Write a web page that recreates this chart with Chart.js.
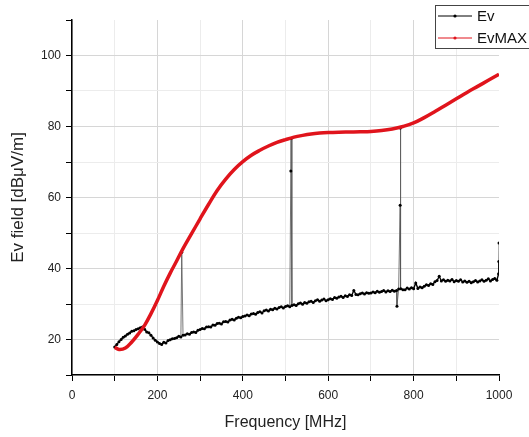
<!DOCTYPE html>
<html>
<head>
<meta charset="utf-8">
<script src="https://cdn.jsdelivr.net/npm/chart.js@4.4.1/dist/chart.umd.min.js"></script>
<style>
    html, body { margin: 0; padding: 0; background: #fff; }
    #wrap { width: 529px; height: 437px; }
</style>
</head>
<body>
<div id="wrap"><canvas id="field-chart"></canvas></div>
<script>
// measured field, one sample every 5 MHz from 100 MHz
const evStart = 100;
const evStep = 5;
const evLevel = [
    17.9, 18.6, 19.4, 20.0, 20.6, 21.0, 21.5, 21.8, 22.3, 22.5,
    22.8, 23.0, 23.3, 23.5, 22.9, 22.1, 21.9, 21.2, 20.4, 19.8,
    19.3, 18.9, 18.6, 19.2, 19.0, 19.7, 19.9, 20.2, 20.3, 20.5,
    20.9, 20.7, 21.2, 21.3, 21.6, 21.5, 22.0, 22.1, 22.0, 22.6,
    22.8, 23.1, 23.0, 23.5, 23.6, 23.5, 24.1, 24.0, 24.5, 24.6,
    24.4, 25.0, 25.1, 24.9, 25.5, 25.7, 25.5, 26.0, 26.3, 26.1,
    26.5, 26.6, 26.9, 26.7, 27.2, 27.3, 27.1, 27.6, 27.8, 27.5,
    28.1, 28.3, 28.0, 28.5, 28.4, 28.8, 28.6, 29.0, 29.2, 28.9,
    29.3, 29.5, 29.2, 29.6, 29.8, 29.6, 30.1, 30.3, 29.9, 30.4,
    30.2, 30.6, 30.8, 30.4, 30.9, 31.2, 30.8, 31.1, 31.4, 30.9,
    31.2, 31.5, 31.3, 31.8, 31.6, 32.0, 32.2, 31.8, 32.3, 32.1,
    32.6, 32.4, 33.8, 32.7, 32.6, 32.9, 33.1, 32.8, 33.2, 33.0,
    33.1, 33.4, 33.2, 33.6, 33.3, 33.5, 33.8, 33.4, 33.7, 33.5,
    33.9, 33.6, 33.8, 34.2, 34.3, 34.0, 34.0, 34.5, 34.2, 34.6,
    34.3, 35.9, 34.4, 34.8, 34.6, 35.0, 35.4, 35.2, 35.7, 35.5,
    36.3, 36.6, 37.8, 36.5, 36.8, 36.4, 36.7, 36.5, 36.9, 36.3,
    36.6, 36.4, 36.8, 36.2, 36.5, 36.1, 36.4, 36.0, 36.3, 36.6,
    36.2, 36.5, 36.8, 36.4, 36.7, 37.1, 36.5, 36.9, 37.2, 36.7,
    47.2
];

// narrow spikes between the regular samples
const spikeFreq = [257, 512.5, 513, 761, 768.5, 769, 999, 999.5];
const spikeLevel = [44.6, 67.5, 76.6, 29.4, 57.8, 79.6, 38.5, 42.0];

// max envelope
const maxFreq = [100, 110, 125, 140, 155, 170, 185, 200, 215, 230, 245, 260, 280, 300, 320, 340, 360, 380,
    400, 420, 440, 460, 480, 500, 520, 540, 560, 580, 600, 625, 650, 675, 700, 725, 750, 775,
    800, 825, 850, 875, 900, 925, 950, 975, 1000];
const maxLevel = [17.8, 17.2, 17.6, 19.3, 21.5, 24.0, 27.3, 31.0, 35.0, 38.7, 42.1, 45.6, 49.8, 54.0, 58.1, 62.0, 65.2, 67.9,
    70.1, 71.9, 73.3, 74.5, 75.5, 76.3, 77.0, 77.5, 77.9, 78.15, 78.3, 78.4, 78.45, 78.5, 78.6, 78.85, 79.3, 80.0,
    81.0, 82.5, 84.2, 86.0, 87.8, 89.6, 91.3, 93.0, 94.7];

const evPoints = evLevel.map((v, i) => ({ x: evStart + i * evStep, y: v }))
    .concat(spikeFreq.map((f, i) => ({ x: f, y: spikeLevel[i] })))
    .sort((a, b) => a.x - b.x);
const maxPoints = maxFreq.map((f, i) => ({ x: f, y: maxLevel[i] }));

const FONT = '"Liberation Sans", Arial, sans-serif';

// steep jumps (spikes) are drawn as thin grey strokes
const isSpike = (ctx) => Math.abs(ctx.p1.parsed.y - ctx.p0.parsed.y) > 4;

// Origin style legend box in the top right corner
const boxLegend = {
    id: 'boxLegend',
    afterDraw(chart) {
        const ctx = chart.ctx;
        const items = [
            { label: chart.data.datasets[0].label, color: '#000', y: 16 },
            { label: chart.data.datasets[1].label, color: '#e0141c', y: 38 },
        ];
        ctx.save();
        ctx.fillStyle = '#fff';
        ctx.fillRect(435, 5, 110, 43);
        ctx.strokeStyle = '#444';
        ctx.lineWidth = 1;
        ctx.strokeRect(435.5, 5.5, 110, 43);
        ctx.font = '15px ' + FONT;
        ctx.textBaseline = 'middle';
        items.forEach(it => {
            ctx.strokeStyle = it.color;
            ctx.beginPath();
            ctx.moveTo(438, it.y);
            ctx.lineTo(472, it.y);
            ctx.stroke();
            ctx.fillStyle = it.color;
            ctx.beginPath();
            ctx.arc(455, it.y, 1.6, 0, Math.PI * 2);
            ctx.fill();
            ctx.fillStyle = '#111';
            ctx.fillText(it.label, 477, it.y + 1);
        });
        ctx.restore();
    }
};

new Chart(document.getElementById('field-chart'), {
    type: 'line',
    data: {
        datasets: [
            {
                label: 'Ev',
                data: evPoints,
                borderColor: '#000',
                borderWidth: 1.4,
                pointRadius: 1.5,
                pointBackgroundColor: '#000',
                pointBorderWidth: 0,
                segment: {
                    borderColor: (ctx) => (isSpike(ctx) ? '#555' : undefined),
                    borderWidth: (ctx) => (isSpike(ctx) ? 0.8 : undefined),
                },
                order: 1,
            },
            {
                label: 'EvMAX',
                data: maxPoints,
                borderColor: '#e0141c',
                borderWidth: 3.5,
                pointRadius: 0,
                tension: 0.4,
                order: 0,
            },
        ],
    },
    options: {
        responsive: true,
        maintainAspectRatio: false,
        animation: false,
        layout: {
            padding: { top: 20, right: 30, left: 0, bottom: 0 },
        },
        plugins: {
            legend: { display: false },
            tooltip: { enabled: false },
        },
        scales: {
            x: {
                type: 'linear',
                min: 0,
                max: 1000,
                afterFit: (scale) => { scale.height = 62; },
                ticks: {
                    stepSize: 100,
                    autoSkip: false,
                    maxRotation: 0,
                    padding: 7,
                    color: '#222',
                    font: { family: FONT, size: 12 },
                    callback: (v) => (v % 200 === 0 ? v : ''),
                },
                grid: {
                    color: (c) => (c.tick.value === 1000 ? 'rgba(0,0,0,0)' : (c.tick.value % 200 === 0 ? '#d6d6d6' : '#ececec')),
                    tickColor: '#000',
                    tickLength: 6,
                },
                border: { display: true, color: '#000', width: 1.5 },
                title: {
                    display: true,
                    text: 'Frequency [MHz]',
                    color: '#222',
                    font: { family: FONT, size: 16 },
                    padding: { top: 0, bottom: 5 },
                },
            },
            y: {
                min: 10,
                max: 110,
                afterFit: (scale) => { scale.width = 72; },
                ticks: {
                    stepSize: 10,
                    autoSkip: false,
                    padding: 5,
                    color: '#222',
                    font: { family: FONT, size: 12 },
                    callback: (v) => (v % 20 === 0 ? v : ''),
                },
                grid: {
                    color: (c) => (c.tick.value === 110 ? 'rgba(0,0,0,0)' : (c.tick.value % 20 === 0 ? '#d6d6d6' : '#ececec')),
                    tickColor: '#000',
                    tickLength: 6,
                },
                border: { display: true, color: '#000', width: 1.5 },
                title: {
                    display: true,
                    text: 'Ev field [dBμV/m]',
                    color: '#222',
                    font: { family: FONT, size: 17 },
                    padding: { top: 8, bottom: 0 },
                },
            },
        },
    },
    plugins: [boxLegend],
});
</script>
</body>
</html>
